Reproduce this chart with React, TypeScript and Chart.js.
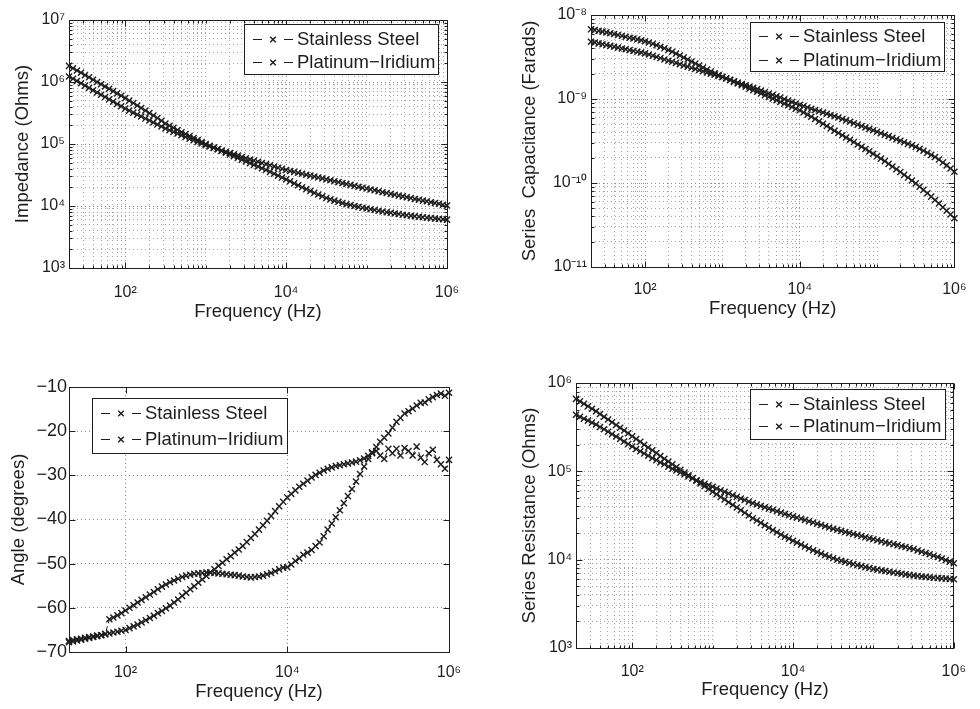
import React, { useEffect, useRef } from 'react';
import { Chart, registerables } from 'chart.js';

Chart.register(...registerables);
Chart.defaults.font.family = '"Liberation Sans", Arial, Helvetica, sans-serif';

const INK = '#1e1e1e';

// ---------------- data ----------------
const frequencyHz = [
  20, 22.4, 25.1, 28.2, 31.6, 35.5, 39.8, 44.7, 50.1, 56.2, 63.1, 70.8, 79.4, 89.1,
  100, 112, 126, 141, 158, 178, 200, 224, 251, 282, 316, 355, 398, 447, 501, 562, 631, 708, 794, 891,
  1000, 1120, 1260, 1410, 1580, 1780, 2000, 2240, 2510, 2820, 3160, 3550, 3980, 4470, 5010, 5620, 6310, 7080, 7940, 8910,
  10000, 11200, 12600, 14100, 15800, 17800, 20000, 22400, 25100, 28200, 31600, 35500, 39800, 44700, 50100, 56200, 63100, 70800, 79400, 89100,
  100000, 112000, 126000, 141000, 158000, 178000, 200000, 224000, 251000, 282000, 316000, 355000, 398000, 447000, 501000, 562000, 631000, 708000, 794000, 891000,
  1000000,
];

const seriesNames = ['Stainless Steel', 'Platinum\u2212Iridium'];

const impedanceSteel = [
  1.23e6, 1.13e6, 1.038e6, 9.53e5, 8.75e5, 8.04e5, 7.38e5, 6.78e5, 6.22e5, 5.71e5, 5.25e5, 4.82e5, 4.43e5, 4.06e5,
  3.72e5, 3.45e5, 3.21e5, 2.98e5, 2.77e5, 2.57e5, 2.39e5, 2.22e5, 2.06e5, 1.91e5, 1.78e5, 1.67e5, 1.57e5, 1.48e5, 1.39e5, 1.30e5, 1.22e5, 1.15e5, 1.08e5, 1.02e5,
  9.55e4, 9.10e4, 8.67e4, 8.26e4, 7.87e4, 7.50e4, 7.14e4, 6.81e4, 6.49e4, 6.18e4, 5.89e4, 5.64e4, 5.40e4, 5.16e4, 4.94e4, 4.73e4, 4.53e4, 4.34e4, 4.15e4, 3.97e4,
  3.80e4, 3.67e4, 3.55e4, 3.43e4, 3.31e4, 3.20e4, 3.09e4, 2.99e4, 2.88e4, 2.79e4, 2.69e4, 2.60e4, 2.51e4, 2.43e4, 2.34e4, 2.26e4, 2.19e4, 2.11e4, 2.04e4, 1.97e4,
  1.91e4, 1.85e4, 1.79e4, 1.73e4, 1.67e4, 1.62e4, 1.57e4, 1.52e4, 1.47e4, 1.43e4, 1.38e4, 1.34e4, 1.30e4, 1.26e4, 1.22e4, 1.19e4, 1.15e4, 1.12e4, 1.09e4, 1.05e4,
  1.02e4,
];
const impedancePtIr = [
  1.82e6, 1.67e6, 1.53e6, 1.41e6, 1.29e6, 1.19e6, 1.09e6, 1.00e6, 9.20e5, 8.45e5, 7.76e5, 7.13e5, 6.55e5, 6.00e5,
  5.50e5, 5.01e5, 4.57e5, 4.17e5, 3.80e5, 3.47e5, 3.16e5, 2.88e5, 2.63e5, 2.37e5, 2.14e5, 1.97e5, 1.82e5, 1.68e5, 1.55e5, 1.45e5, 1.34e5, 1.25e5, 1.16e5, 1.08e5,
  1.00e5, 9.38e4, 8.79e4, 8.24e4, 7.73e4, 7.24e4, 6.79e4, 6.37e4, 5.97e4, 5.60e4, 5.25e4, 4.92e4, 4.61e4, 4.33e4, 4.06e4, 3.80e4, 3.55e4, 3.31e4, 3.09e4, 2.88e4,
  2.69e4, 2.50e4, 2.32e4, 2.16e4, 2.00e4, 1.87e4, 1.75e4, 1.63e4, 1.53e4, 1.44e4, 1.35e4, 1.28e4, 1.22e4, 1.17e4, 1.12e4, 1.07e4, 1.04e4, 1.00e4, 9.68e3, 9.40e3,
  9.12e3, 8.87e3, 8.63e3, 8.39e3, 8.17e3, 7.94e3, 7.76e3, 7.59e3, 7.41e3, 7.24e3, 7.08e3, 6.95e3, 6.82e3, 6.70e3, 6.58e3, 6.46e3, 6.37e3, 6.28e3, 6.19e3, 6.11e3,
  6.03e3,
];

const capacitanceSteel = [
  6.75e-9, 6.61e-9, 6.47e-9, 6.34e-9, 6.21e-9, 6.07e-9, 5.93e-9, 5.79e-9, 5.65e-9, 5.51e-9, 5.37e-9, 5.25e-9, 5.13e-9, 5.01e-9,
  4.88e-9, 4.71e-9, 4.54e-9, 4.37e-9, 4.19e-9, 4.01e-9, 3.83e-9, 3.65e-9, 3.47e-9, 3.29e-9, 3.12e-9, 2.95e-9, 2.79e-9, 2.64e-9, 2.50e-9, 2.37e-9, 2.24e-9, 2.13e-9, 2.02e-9, 1.93e-9,
  1.84e-9, 1.76e-9, 1.68e-9, 1.60e-9, 1.53e-9, 1.46e-9, 1.40e-9, 1.33e-9, 1.27e-9, 1.22e-9, 1.16e-9, 1.11e-9, 1.06e-9, 1.01e-9, 9.66e-10, 9.23e-10, 8.81e-10, 8.41e-10, 8.04e-10, 7.67e-10,
  7.33e-10, 6.92e-10, 6.52e-10, 6.14e-10, 5.77e-10, 5.42e-10, 5.08e-10, 4.76e-10, 4.47e-10, 4.19e-10, 3.94e-10, 3.70e-10, 3.48e-10, 3.27e-10, 3.07e-10, 2.88e-10, 2.70e-10, 2.54e-10, 2.38e-10, 2.23e-10,
  2.09e-10, 1.95e-10, 1.82e-10, 1.69e-10, 1.57e-10, 1.46e-10, 1.35e-10, 1.25e-10, 1.16e-10, 1.07e-10, 9.89e-11, 9.06e-11, 8.28e-11, 7.55e-11, 6.89e-11, 6.27e-11, 5.69e-11, 5.15e-11, 4.67e-11, 4.22e-11,
  3.80e-11,
];
const capacitancePtIr = [
  4.81e-9, 4.70e-9, 4.59e-9, 4.49e-9, 4.39e-9, 4.29e-9, 4.19e-9, 4.09e-9, 4.00e-9, 3.91e-9, 3.82e-9, 3.73e-9, 3.65e-9, 3.57e-9,
  3.49e-9, 3.38e-9, 3.27e-9, 3.17e-9, 3.07e-9, 2.96e-9, 2.86e-9, 2.77e-9, 2.69e-9, 2.59e-9, 2.51e-9, 2.43e-9, 2.35e-9, 2.28e-9, 2.21e-9, 2.14e-9, 2.07e-9, 2.00e-9, 1.94e-9, 1.88e-9,
  1.82e-9, 1.75e-9, 1.69e-9, 1.63e-9, 1.57e-9, 1.51e-9, 1.46e-9, 1.41e-9, 1.36e-9, 1.31e-9, 1.26e-9, 1.21e-9, 1.16e-9, 1.12e-9, 1.08e-9, 1.04e-9, 9.95e-10, 9.57e-10, 9.20e-10, 8.85e-10,
  8.51e-10, 8.22e-10, 7.94e-10, 7.67e-10, 7.41e-10, 7.16e-10, 6.92e-10, 6.68e-10, 6.46e-10, 6.24e-10, 6.03e-10, 5.79e-10, 5.57e-10, 5.36e-10, 5.15e-10, 4.95e-10, 4.76e-10, 4.58e-10, 4.41e-10, 4.24e-10,
  4.07e-10, 3.91e-10, 3.75e-10, 3.60e-10, 3.45e-10, 3.31e-10, 3.18e-10, 3.05e-10, 2.92e-10, 2.81e-10, 2.69e-10, 2.55e-10, 2.42e-10, 2.29e-10, 2.16e-10, 2.04e-10, 1.90e-10, 1.75e-10, 1.62e-10, 1.49e-10,
  1.36e-10,
];

const angleSteel = [
  -67.8, -67.6, -67.4, -67.2, -67.0, -66.8, -66.6, -66.4, -66.2, -66.0, -65.8, -65.6, -65.4, -65.2,
  -65.0, -64.6, -64.2, -63.8, -63.3, -62.8, -62.3, -61.8, -61.2, -60.7, -60.1, -59.5, -58.8, -58.1, -57.3, -56.6, -55.8, -55.1, -54.3, -53.6,
  -52.8, -52.0, -51.3, -50.5, -49.8, -49.0, -48.3, -47.5, -46.8, -46.0, -45.1, -44.2, -43.3, -42.3, -41.3, -40.3, -39.2, -38.1, -37.0, -36.0,
  -35.0, -34.2, -33.4, -32.6, -31.9, -31.2, -30.5, -29.9, -29.4, -28.9, -28.5, -28.2, -27.9, -27.7, -27.5, -27.3, -27.1, -26.9, -26.6, -26.2,
  -25.6, -24.8, -24.5, -25.5, -26.3, -24.0, -25.0, -24.0, -25.5, -23.8, -24.5, -25.5, -23.5, -26.0, -27.0, -25.0, -24.2, -26.5, -27.5, -28.5,
  -26.5,
];
const anglePtIr = [
  -67.5, -67.3, -67.1, -67.0, -66.8, -66.6, -66.5, -66.3, -66.2, -65.9, -62.6, -62.2, -61.7, -61.2,
  -60.6, -60.0, -59.4, -58.8, -58.2, -57.6, -57.0, -56.4, -55.8, -55.2, -54.7, -54.2, -53.8, -53.4, -53.0, -52.7, -52.5, -52.3, -52.2, -52.1,
  -52.0, -52.0, -52.1, -52.2, -52.3, -52.4, -52.5, -52.6, -52.7, -52.9, -53.0, -53.1, -53.0, -52.9, -52.7, -52.4, -52.1, -51.7, -51.3, -50.9,
  -50.8, -50.2, -49.4, -48.8, -48.0, -47.5, -46.9, -46.0, -45.2, -43.8, -42.3, -40.9, -39.5, -37.9, -36.3, -34.7, -33.1, -31.4, -29.7, -28.0,
  -26.3, -25.0, -23.6, -22.4, -21.5, -20.5, -19.2, -17.9, -17.0, -16.0, -15.5, -14.9, -14.2, -13.6, -13.5, -12.8, -12.3, -11.8, -11.5, -12.0,
  -11.3,
];

const resistanceSteel = [
  4.37e5, 4.15e5, 3.94e5, 3.75e5, 3.56e5, 3.39e5, 3.18e5, 2.99e5, 2.81e5, 2.64e5, 2.48e5, 2.33e5, 2.18e5, 2.04e5,
  1.91e5, 1.79e5, 1.69e5, 1.59e5, 1.50e5, 1.41e5, 1.34e5, 1.26e5, 1.20e5, 1.13e5, 1.07e5, 1.02e5, 9.68e4, 9.20e4, 8.75e4, 8.32e4, 7.94e4, 7.59e4, 7.24e4, 6.95e4,
  6.68e4, 6.38e4, 6.11e4, 5.85e4, 5.60e4, 5.36e4, 5.14e4, 4.93e4, 4.73e4, 4.54e4, 4.37e4, 4.21e4, 4.06e4, 3.92e4, 3.78e4, 3.66e4, 3.53e4, 3.41e4, 3.30e4, 3.19e4,
  3.09e4, 2.99e4, 2.90e4, 2.81e4, 2.72e4, 2.63e4, 2.55e4, 2.47e4, 2.39e4, 2.31e4, 2.24e4, 2.18e4, 2.12e4, 2.06e4, 2.00e4, 1.95e4, 1.90e4, 1.85e4, 1.79e4, 1.75e4,
  1.70e4, 1.66e4, 1.61e4, 1.57e4, 1.53e4, 1.50e4, 1.46e4, 1.42e4, 1.39e4, 1.35e4, 1.32e4, 1.27e4, 1.23e4, 1.19e4, 1.15e4, 1.11e4, 1.07e4, 1.03e4, 9.89e3, 9.51e3,
  9.12e3,
];
const resistancePtIr = [
  6.61e5, 6.19e5, 5.81e5, 5.45e5, 5.11e5, 4.79e5, 4.46e5, 4.15e5, 3.86e5, 3.60e5, 3.35e5, 3.12e5, 2.90e5, 2.70e5,
  2.50e5, 2.32e5, 2.16e5, 2.00e5, 1.86e5, 1.73e5, 1.61e5, 1.49e5, 1.39e5, 1.29e5, 1.20e5, 1.12e5, 1.04e5, 9.68e4, 9.02e4, 8.39e4, 7.82e4, 7.28e4, 6.78e4, 6.31e4,
  5.89e4, 5.50e4, 5.13e4, 4.79e4, 4.47e4, 4.17e4, 3.89e4, 3.63e4, 3.39e4, 3.16e4, 2.95e4, 2.77e4, 2.61e4, 2.45e4, 2.30e4, 2.16e4, 2.04e4, 1.92e4, 1.82e4, 1.73e4,
  1.64e4, 1.56e4, 1.48e4, 1.41e4, 1.34e4, 1.28e4, 1.22e4, 1.17e4, 1.12e4, 1.08e4, 1.04e4, 1.00e4, 9.73e3, 9.44e3, 9.16e3, 8.91e3, 8.67e3, 8.45e3, 8.24e3, 8.04e3,
  7.85e3, 7.71e3, 7.57e3, 7.43e3, 7.29e3, 7.16e3, 7.05e3, 6.93e3, 6.82e3, 6.71e3, 6.61e3, 6.53e3, 6.46e3, 6.38e3, 6.31e3, 6.25e3, 6.19e3, 6.14e3, 6.10e3, 6.05e3,
  6.01e3,
];

// ---------------- tick labels ----------------
const freqTickValues = [1e2, 1e4, 1e6];
const freqTickLabels = ['10\u00B2', '10\u2074', '10\u2076'];
const impedanceTickValues = [1e3, 1e4, 1e5, 1e6, 1e7];
const impedanceTickLabels = ['10\u00B3', '10\u2074', '10\u2075', '10\u2076', '10\u2077'];
const capTickValues = [1e-11, 1e-10, 1e-9, 1e-8];
const capTickLabels = ['10\u207B\u00B9\u00B9', '10\u207B\u00B9\u2070', '10\u207B\u2079', '10\u207B\u2078'];
const angleTickValues = [-70, -60, -50, -40, -30, -20, -10];
const angleTickLabels = ['\u221270', '\u221260', '\u221250', '\u221240', '\u221230', '\u221220', '\u221210'];
const resistanceTickValues = [1e3, 1e4, 1e5, 1e6];
const resistanceTickLabels = ['10\u00B3', '10\u2074', '10\u2075', '10\u2076'];

// ---------------- helpers ----------------
function near(v: number, m: number) {
  return Math.abs(v - m) <= Math.abs(m) * 1e-6;
}
function isIn(v: number, list: number[]) {
  return list.some((m) => near(v, m));
}
function labelFor(v: number, vals: number[], labels: string[]) {
  const i = vals.findIndex((m) => near(v, m));
  return i >= 0 ? labels[i] : '';
}
function logGrid(min: number, max: number) {
  const out: number[] = [];
  const e0 = Math.floor(Math.log10(min) + 1e-9);
  const e1 = Math.ceil(Math.log10(max) - 1e-9);
  for (let e = e0; e <= e1; e++) {
    for (let m = 1; m <= 9; m++) {
      const v = parseFloat((m * Math.pow(10, e)).toPrecision(8));
      if (v >= min * (1 - 1e-9) && v <= max * (1 + 1e-9)) out.push(v);
    }
  }
  return out;
}

type LegendDef = { corner: 'ne' | 'nw'; dx: number; dy: number; w: number; h: number; rows: number[] };
type PanelDef = {
  left: number; top: number; width: number; height: number;
  padTop: number; padRight: number; yAxisW: number; xAxisH: number;
  yType: 'logarithmic' | 'linear'; yMin: number; yMax: number;
  yMajors: number[]; yLabels: string[]; yMinor: boolean; xMinor: boolean;
  yTitle: string; yTitlePad: number; xTitlePad: number;
  xTickPad: number; yTickPad: number; yTickSize: number;
  series: number[][];
  legend: LegendDef;
};

const panels: PanelDef[] = [
  {
    left: 0, top: 0, width: 490, height: 340, padTop: 20, padRight: 43, yAxisW: 69, xAxisH: 72,
    yType: 'logarithmic', yMin: 1e3, yMax: 1e7, yMajors: impedanceTickValues, yLabels: impedanceTickLabels,
    yMinor: true, xMinor: true, yTitle: 'Impedance (Ohms)', yTitlePad: 11.9, xTitlePad: 17.2,
    xTickPad: 15, yTickPad: 4, yTickSize: 16, series: [impedanceSteel, impedancePtIr],
    legend: { corner: 'ne', dx: 9, dy: 4, w: 194, h: 50, rows: [15.3, 37.7] },
  },
  {
    left: 490, top: 0, width: 490, height: 340, padTop: 15, padRight: 20, yAxisW: 101, xAxisH: 73,
    yType: 'logarithmic', yMin: 1e-11, yMax: 1e-8, yMajors: capTickValues, yLabels: capTickLabels,
    yMinor: true, xMinor: true, yTitle: 'Series  Capacitance (Farads)', yTitlePad: 29.2, xTitlePad: 19.9,
    xTickPad: 13.4, yTickPad: 4, yTickSize: 16, series: [capacitanceSteel, capacitancePtIr],
    legend: { corner: 'ne', dx: 10, dy: 6.7, w: 194, h: 49, rows: [14.3, 37.6] },
  },
  {
    left: 0, top: 340, width: 490, height: 369, padTop: 47, padRight: 41, yAxisW: 69, xAxisH: 57,
    yType: 'linear', yMin: -70, yMax: -10, yMajors: angleTickValues, yLabels: angleTickLabels,
    yMinor: false, xMinor: false, yTitle: 'Angle (degrees)', yTitlePad: 7.9, xTitlePad: 5.5,
    xTickPad: 11.4, yTickPad: 2, yTickSize: 18, series: [angleSteel, anglePtIr],
    legend: { corner: 'nw', dx: 22.7, dy: 10.7, w: 195, h: 55, rows: [15, 40.6] },
  },
  {
    left: 490, top: 340, width: 490, height: 369, padTop: 43, padRight: 19, yAxisW: 86, xAxisH: 61,
    yType: 'logarithmic', yMin: 1e3, yMax: 1e6, yMajors: resistanceTickValues, yLabels: resistanceTickLabels,
    yMinor: true, xMinor: true, yTitle: 'Series Resistance (Ohms)', yTitlePad: 28.5, xTitlePad: 8.2,
    xTickPad: 14, yTickPad: 4, yTickSize: 16, series: [resistanceSteel, resistancePtIr],
    legend: { corner: 'ne', dx: 9.3, dy: 6, w: 195, h: 50, rows: [14.7, 37.4] },
  },
];

function framePlugin(def: PanelDef) {
  return {
    id: 'matlabFrame',
    afterDatasetsDraw(chart: any) {
      const { ctx, chartArea: a } = chart;
      const xs = chart.scales.x;
      const ys = chart.scales.y;
      const L = Math.floor(a.left) + 0.5;
      const R = Math.floor(a.right) + 0.5;
      const T = Math.floor(a.top) + 0.5;
      const B = Math.floor(a.bottom) + 0.5;
      ctx.save();
      ctx.strokeStyle = INK;
      ctx.lineWidth = 1;
      ctx.setLineDash([]);
      ctx.beginPath();
      for (const t of xs.ticks) {
        const p = Math.round(xs.getPixelForValue(t.value)) + 0.5;
        if (p < a.left - 1 || p > a.right + 1) continue;
        const len = isIn(t.value, freqTickValues) ? 6 : 3;
        ctx.moveTo(p, B); ctx.lineTo(p, B - len);
        ctx.moveTo(p, T); ctx.lineTo(p, T + len);
      }
      for (const t of ys.ticks) {
        const p = Math.round(ys.getPixelForValue(t.value)) + 0.5;
        if (p < a.top - 1 || p > a.bottom + 1) continue;
        const len = isIn(t.value, def.yMajors) ? 6 : 3;
        ctx.moveTo(L, p); ctx.lineTo(L + len, p);
        ctx.moveTo(R, p); ctx.lineTo(R - len, p);
      }
      ctx.stroke();
      ctx.strokeRect(L, T, R - L, B - T);
      ctx.restore();
    },
    afterDraw(chart: any) {
      const { ctx, chartArea: a } = chart;
      const lg = def.legend;
      const x0 = Math.round(lg.corner === 'ne' ? a.right - lg.dx - lg.w : a.left + lg.dx);
      const y0 = Math.round(a.top + lg.dy);
      ctx.save();
      ctx.fillStyle = '#ffffff';
      ctx.fillRect(x0, y0, lg.w, lg.h);
      ctx.strokeStyle = INK;
      ctx.lineWidth = 1;
      ctx.setLineDash([]);
      ctx.strokeRect(x0 + 0.5, y0 + 0.5, lg.w, lg.h);
      chart.data.datasets.forEach((ds: any, i: number) => {
        const cy = Math.round(y0 + lg.rows[i]) + 0.5;
        ctx.lineWidth = 1;
        ctx.beginPath();
        ctx.moveTo(x0 + 9, cy); ctx.lineTo(x0 + 18, cy);
        ctx.moveTo(x0 + 40, cy); ctx.lineTo(x0 + 49, cy);
        ctx.stroke();
        const mx = x0 + 29;
        const r = 2.8;
        ctx.lineWidth = 1.4;
        ctx.beginPath();
        ctx.moveTo(mx - r, cy - r); ctx.lineTo(mx + r, cy + r);
        ctx.moveTo(mx - r, cy + r); ctx.lineTo(mx + r, cy - r);
        ctx.stroke();
        ctx.fillStyle = INK;
        ctx.font = '18.5px "Liberation Sans", Arial, sans-serif';
        ctx.textBaseline = 'middle';
        ctx.textAlign = 'left';
        ctx.fillText(ds.label, x0 + 53, cy);
      });
      ctx.restore();
    },
  };
}

function Panel({ def }: { def: PanelDef }) {
  const ref = useRef<HTMLCanvasElement>(null);
  useEffect(() => {
    const canvas = ref.current;
    if (!canvas) return;
    const gridColor = (majors: number[]) => (c: any) =>
      c.tick && isIn(c.tick.value, majors) ? '#8a8a8a' : '#a6a6a6';
    const chart = new Chart(canvas, {
      type: 'line',
      data: {
        datasets: def.series.map((vals, i) => ({
          label: seriesNames[i],
          data: frequencyHz.map((f, k) => ({ x: f, y: vals[k] })),
          borderColor: INK,
          borderWidth: 1,
          borderDash: [5, 3],
          pointStyle: 'crossRot',
          pointRadius: 4.3,
          pointBorderColor: INK,
          pointBackgroundColor: INK,
          pointBorderWidth: 1.4,
          fill: false,
          tension: 0,
          clip: 8,
        })),
      },
      options: {
        animation: false,
        responsive: false,
        maintainAspectRatio: false,
        devicePixelRatio: 1,
        events: [],
        layout: { padding: { left: 0, top: def.padTop, right: def.padRight, bottom: 0 } },
        plugins: { legend: { display: false }, tooltip: { enabled: false }, title: { display: false } },
        scales: {
          x: {
            type: 'logarithmic',
            min: 20,
            max: 1e6,
            afterBuildTicks: (s: any) => {
              s.ticks = (def.xMinor ? logGrid(20, 1e6) : freqTickValues).map((v) => ({ value: v }));
            },
            afterFit: (s: any) => { s.height = def.xAxisH; },
            ticks: {
              autoSkip: false, maxRotation: 0, minRotation: 0, padding: def.xTickPad, color: INK,
              font: { size: 16 },
              callback: (v: any) => labelFor(Number(v), freqTickValues, freqTickLabels),
            },
            grid: { drawTicks: false, color: gridColor(freqTickValues), lineWidth: 1 },
            border: { display: false, dash: [1, 3] },
            title: {
              display: true, text: 'Frequency (Hz)', color: INK, font: { size: 18.5 },
              padding: { top: 0, bottom: def.xTitlePad },
            },
          },
          y: {
            type: def.yType,
            min: def.yMin,
            max: def.yMax,
            afterBuildTicks: (s: any) => {
              s.ticks = (def.yMinor ? logGrid(def.yMin, def.yMax) : def.yMajors).map((v) => ({ value: v }));
            },
            afterFit: (s: any) => { s.width = def.yAxisW; },
            ticks: {
              autoSkip: false, padding: def.yTickPad, color: INK, font: { size: def.yTickSize },
              callback: (v: any) => labelFor(Number(v), def.yMajors, def.yLabels),
            },
            grid: { drawTicks: false, color: gridColor(def.yMajors), lineWidth: 1 },
            border: { display: false, dash: [1, 3] },
            title: {
              display: true, text: def.yTitle, color: INK, font: { size: 18.5 },
              padding: { top: def.yTitlePad, bottom: 0 },
            },
          },
        },
      } as any,
      plugins: [framePlugin(def)],
    });
    return () => chart.destroy();
  }, [def]);
  return (
    <canvas
      ref={ref}
      width={def.width}
      height={def.height}
      style={{ position: 'absolute', left: def.left, top: def.top, width: def.width, height: def.height }}
    />
  );
}

export default function App() {
  return (
    <div style={{ position: 'absolute', left: 0, top: 0, width: 980, height: 709, background: '#ffffff', overflow: 'hidden' }}>
      {panels.map((p, i) => (
        <Panel key={i} def={p} />
      ))}
    </div>
  );
}
